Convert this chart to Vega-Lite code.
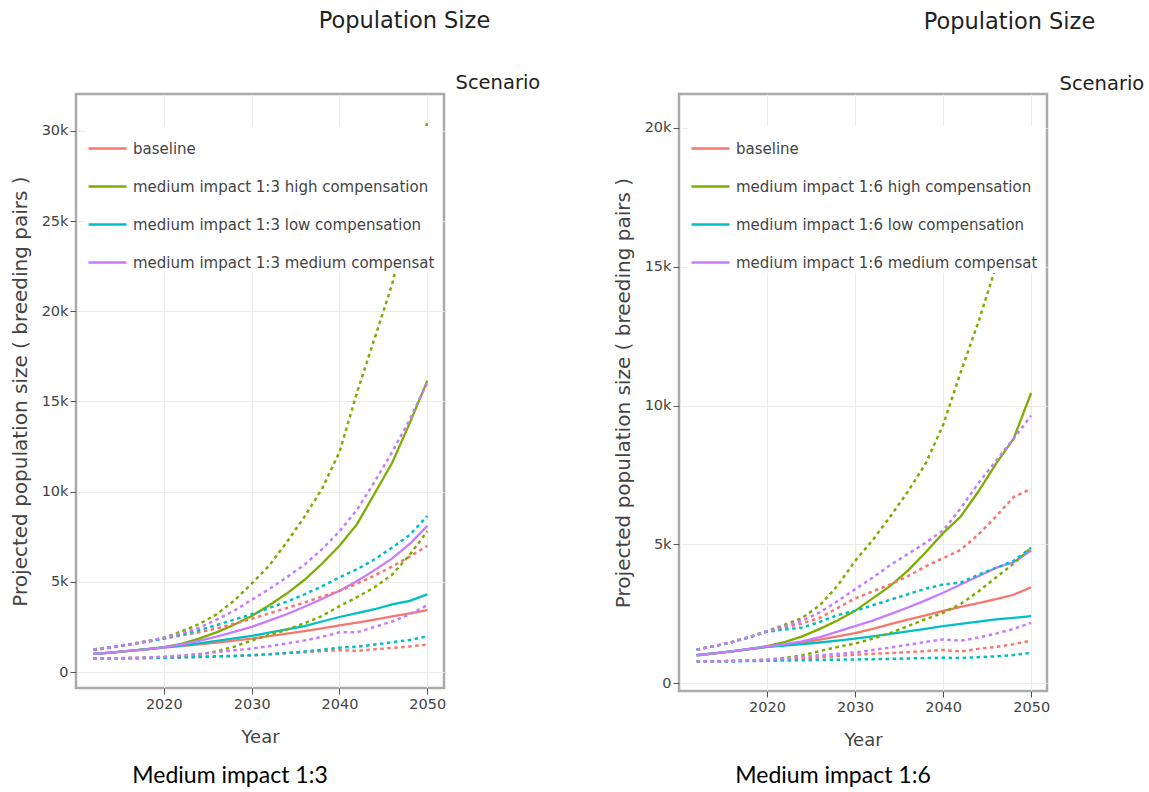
{
  "$schema": "https://vega.github.io/schema/vega-lite/v6.json",
  "background": "white",
  "padding": {"left": 8, "top": 7, "right": 5, "bottom": 5},
  "bounds": "flush",
  "spacing": 235,
  "config": {
    "font": "DejaVu Sans",
    "view": {"stroke": "#aaaaaa", "strokeWidth": 2.5},
    "axis": {"labelFont": "DejaVu Sans", "labelFontSize": 14.5, "labelColor": "#444444", "titleFont": "DejaVu Sans", "titleFontWeight": "normal", "titleColor": "#444444", "tickColor": "#555555", "tickSize": 6, "domain": false, "gridColor": "#ebebeb", "gridWidth": 1},
    "line": {"strokeCap": "butt"}
  },
  "resolve": {"scale": {"color": "independent", "x": "independent", "y": "independent"}, "legend": {"color": "independent"}},
  "datasets": {
    "n13": [
      {"k": "B", "scenario": "baseline"},
      {"k": "H", "scenario": "medium impact 1:3 high compensation"},
      {"k": "L", "scenario": "medium impact 1:3 low compensation"},
      {"k": "M", "scenario": "medium impact 1:3 medium compensation"}
    ],
    "n16": [
      {"k": "B", "scenario": "baseline"},
      {"k": "H", "scenario": "medium impact 1:6 high compensation"},
      {"k": "L", "scenario": "medium impact 1:6 low compensation"},
      {"k": "M", "scenario": "medium impact 1:6 medium compensation"}
    ],
    "d13": [
      {"k":"B","t":"m","year":2012,"value":1000},{"k":"B","t":"m","year":2014,"value":1080},{"k":"B","t":"m","year":2016,"value":1170},{"k":"B","t":"m","year":2018,"value":1260},{"k":"B","t":"m","year":2020,"value":1350},{"k":"B","t":"m","year":2022,"value":1440},{"k":"B","t":"m","year":2024,"value":1530},{"k":"B","t":"m","year":2026,"value":1630},{"k":"B","t":"m","year":2028,"value":1740},{"k":"B","t":"m","year":2030,"value":1850},{"k":"B","t":"m","year":2032,"value":1990},{"k":"B","t":"m","year":2034,"value":2130},{"k":"B","t":"m","year":2036,"value":2270},{"k":"B","t":"m","year":2038,"value":2420},{"k":"B","t":"m","year":2040,"value":2580},{"k":"B","t":"m","year":2042,"value":2740},{"k":"B","t":"m","year":2044,"value":2910},{"k":"B","t":"m","year":2046,"value":3080},{"k":"B","t":"m","year":2048,"value":3250},{"k":"B","t":"m","year":2050,"value":3430},
      {"k":"B","t":"u","year":2012,"value":1200},{"k":"B","t":"u","year":2014,"value":1350},{"k":"B","t":"u","year":2016,"value":1500},{"k":"B","t":"u","year":2018,"value":1670},{"k":"B","t":"u","year":2020,"value":1850},{"k":"B","t":"u","year":2022,"value":2030},{"k":"B","t":"u","year":2024,"value":2200},{"k":"B","t":"u","year":2026,"value":2420},{"k":"B","t":"u","year":2028,"value":2680},{"k":"B","t":"u","year":2030,"value":2950},{"k":"B","t":"u","year":2032,"value":3250},{"k":"B","t":"u","year":2034,"value":3550},{"k":"B","t":"u","year":2036,"value":3850},{"k":"B","t":"u","year":2038,"value":4180},{"k":"B","t":"u","year":2040,"value":4500},{"k":"B","t":"u","year":2042,"value":4900},{"k":"B","t":"u","year":2044,"value":5350},{"k":"B","t":"u","year":2046,"value":5850},{"k":"B","t":"u","year":2048,"value":6400},{"k":"B","t":"u","year":2050,"value":7000},
      {"k":"B","t":"l","year":2012,"value":760},{"k":"B","t":"l","year":2014,"value":765},{"k":"B","t":"l","year":2016,"value":770},{"k":"B","t":"l","year":2018,"value":780},{"k":"B","t":"l","year":2020,"value":795},{"k":"B","t":"l","year":2022,"value":810},{"k":"B","t":"l","year":2024,"value":830},{"k":"B","t":"l","year":2026,"value":855},{"k":"B","t":"l","year":2028,"value":880},{"k":"B","t":"l","year":2030,"value":920},{"k":"B","t":"l","year":2032,"value":980},{"k":"B","t":"l","year":2034,"value":1040},{"k":"B","t":"l","year":2036,"value":1100},{"k":"B","t":"l","year":2038,"value":1160},{"k":"B","t":"l","year":2040,"value":1210},{"k":"B","t":"l","year":2042,"value":1170},{"k":"B","t":"l","year":2044,"value":1260},{"k":"B","t":"l","year":2046,"value":1330},{"k":"B","t":"l","year":2048,"value":1420},{"k":"B","t":"l","year":2050,"value":1520},
      {"k":"H","t":"m","year":2012,"value":1000},{"k":"H","t":"m","year":2014,"value":1080},{"k":"H","t":"m","year":2016,"value":1170},{"k":"H","t":"m","year":2018,"value":1270},{"k":"H","t":"m","year":2020,"value":1380},{"k":"H","t":"m","year":2022,"value":1560},{"k":"H","t":"m","year":2024,"value":1850},{"k":"H","t":"m","year":2026,"value":2200},{"k":"H","t":"m","year":2028,"value":2620},{"k":"H","t":"m","year":2030,"value":3100},{"k":"H","t":"m","year":2032,"value":3700},{"k":"H","t":"m","year":2034,"value":4350},{"k":"H","t":"m","year":2036,"value":5100},{"k":"H","t":"m","year":2038,"value":6000},{"k":"H","t":"m","year":2040,"value":7000},{"k":"H","t":"m","year":2042,"value":8200},{"k":"H","t":"m","year":2044,"value":9900},{"k":"H","t":"m","year":2046,"value":11600},{"k":"H","t":"m","year":2048,"value":13800},{"k":"H","t":"m","year":2050,"value":16150},
      {"k":"H","t":"u","year":2012,"value":1250},{"k":"H","t":"u","year":2014,"value":1380},{"k":"H","t":"u","year":2016,"value":1530},{"k":"H","t":"u","year":2018,"value":1700},{"k":"H","t":"u","year":2020,"value":1900},{"k":"H","t":"u","year":2022,"value":2250},{"k":"H","t":"u","year":2024,"value":2650},{"k":"H","t":"u","year":2026,"value":3200},{"k":"H","t":"u","year":2028,"value":3950},{"k":"H","t":"u","year":2030,"value":4900},{"k":"H","t":"u","year":2032,"value":5900},{"k":"H","t":"u","year":2034,"value":7200},{"k":"H","t":"u","year":2036,"value":8600},{"k":"H","t":"u","year":2038,"value":10150},{"k":"H","t":"u","year":2040,"value":12200},{"k":"H","t":"u","year":2042,"value":15500},{"k":"H","t":"u","year":2044,"value":18500},{"k":"H","t":"u","year":2046,"value":21500},{"k":"H","t":"u","year":2048,"value":25600},{"k":"H","t":"u","year":2050,"value":30500},
      {"k":"H","t":"l","year":2012,"value":760},{"k":"H","t":"l","year":2014,"value":765},{"k":"H","t":"l","year":2016,"value":770},{"k":"H","t":"l","year":2018,"value":790},{"k":"H","t":"l","year":2020,"value":820},{"k":"H","t":"l","year":2022,"value":880},{"k":"H","t":"l","year":2024,"value":960},{"k":"H","t":"l","year":2026,"value":1150},{"k":"H","t":"l","year":2028,"value":1400},{"k":"H","t":"l","year":2030,"value":1750},{"k":"H","t":"l","year":2032,"value":2050},{"k":"H","t":"l","year":2034,"value":2350},{"k":"H","t":"l","year":2036,"value":2700},{"k":"H","t":"l","year":2038,"value":3100},{"k":"H","t":"l","year":2040,"value":3650},{"k":"H","t":"l","year":2042,"value":4150},{"k":"H","t":"l","year":2044,"value":4700},{"k":"H","t":"l","year":2046,"value":5400},{"k":"H","t":"l","year":2048,"value":6500},{"k":"H","t":"l","year":2050,"value":7800},
      {"k":"L","t":"m","year":2012,"value":1000},{"k":"L","t":"m","year":2014,"value":1080},{"k":"L","t":"m","year":2016,"value":1170},{"k":"L","t":"m","year":2018,"value":1260},{"k":"L","t":"m","year":2020,"value":1360},{"k":"L","t":"m","year":2022,"value":1470},{"k":"L","t":"m","year":2024,"value":1590},{"k":"L","t":"m","year":2026,"value":1720},{"k":"L","t":"m","year":2028,"value":1860},{"k":"L","t":"m","year":2030,"value":2000},{"k":"L","t":"m","year":2032,"value":2180},{"k":"L","t":"m","year":2034,"value":2360},{"k":"L","t":"m","year":2036,"value":2550},{"k":"L","t":"m","year":2038,"value":2800},{"k":"L","t":"m","year":2040,"value":3050},{"k":"L","t":"m","year":2042,"value":3260},{"k":"L","t":"m","year":2044,"value":3480},{"k":"L","t":"m","year":2046,"value":3750},{"k":"L","t":"m","year":2048,"value":3950},{"k":"L","t":"m","year":2050,"value":4300},
      {"k":"L","t":"u","year":2012,"value":1250},{"k":"L","t":"u","year":2014,"value":1380},{"k":"L","t":"u","year":2016,"value":1530},{"k":"L","t":"u","year":2018,"value":1680},{"k":"L","t":"u","year":2020,"value":1850},{"k":"L","t":"u","year":2022,"value":2080},{"k":"L","t":"u","year":2024,"value":2320},{"k":"L","t":"u","year":2026,"value":2600},{"k":"L","t":"u","year":2028,"value":2900},{"k":"L","t":"u","year":2030,"value":3200},{"k":"L","t":"u","year":2032,"value":3550},{"k":"L","t":"u","year":2034,"value":3900},{"k":"L","t":"u","year":2036,"value":4300},{"k":"L","t":"u","year":2038,"value":4750},{"k":"L","t":"u","year":2040,"value":5250},{"k":"L","t":"u","year":2042,"value":5700},{"k":"L","t":"u","year":2044,"value":6250},{"k":"L","t":"u","year":2046,"value":6900},{"k":"L","t":"u","year":2048,"value":7600},{"k":"L","t":"u","year":2050,"value":8650},
      {"k":"L","t":"l","year":2012,"value":750},{"k":"L","t":"l","year":2014,"value":755},{"k":"L","t":"l","year":2016,"value":760},{"k":"L","t":"l","year":2018,"value":770},{"k":"L","t":"l","year":2020,"value":790},{"k":"L","t":"l","year":2022,"value":810},{"k":"L","t":"l","year":2024,"value":835},{"k":"L","t":"l","year":2026,"value":870},{"k":"L","t":"l","year":2028,"value":900},{"k":"L","t":"l","year":2030,"value":930},{"k":"L","t":"l","year":2032,"value":990},{"k":"L","t":"l","year":2034,"value":1050},{"k":"L","t":"l","year":2036,"value":1140},{"k":"L","t":"l","year":2038,"value":1230},{"k":"L","t":"l","year":2040,"value":1350},{"k":"L","t":"l","year":2042,"value":1400},{"k":"L","t":"l","year":2044,"value":1520},{"k":"L","t":"l","year":2046,"value":1650},{"k":"L","t":"l","year":2048,"value":1780},{"k":"L","t":"l","year":2050,"value":1980},
      {"k":"M","t":"m","year":2012,"value":1000},{"k":"M","t":"m","year":2014,"value":1080},{"k":"M","t":"m","year":2016,"value":1170},{"k":"M","t":"m","year":2018,"value":1260},{"k":"M","t":"m","year":2020,"value":1370},{"k":"M","t":"m","year":2022,"value":1520},{"k":"M","t":"m","year":2024,"value":1720},{"k":"M","t":"m","year":2026,"value":1960},{"k":"M","t":"m","year":2028,"value":2220},{"k":"M","t":"m","year":2030,"value":2500},{"k":"M","t":"m","year":2032,"value":2850},{"k":"M","t":"m","year":2034,"value":3200},{"k":"M","t":"m","year":2036,"value":3620},{"k":"M","t":"m","year":2038,"value":4050},{"k":"M","t":"m","year":2040,"value":4500},{"k":"M","t":"m","year":2042,"value":5050},{"k":"M","t":"m","year":2044,"value":5650},{"k":"M","t":"m","year":2046,"value":6300},{"k":"M","t":"m","year":2048,"value":7100},{"k":"M","t":"m","year":2050,"value":8100},
      {"k":"M","t":"u","year":2012,"value":1250},{"k":"M","t":"u","year":2014,"value":1380},{"k":"M","t":"u","year":2016,"value":1530},{"k":"M","t":"u","year":2018,"value":1700},{"k":"M","t":"u","year":2020,"value":1900},{"k":"M","t":"u","year":2022,"value":2150},{"k":"M","t":"u","year":2024,"value":2450},{"k":"M","t":"u","year":2026,"value":2900},{"k":"M","t":"u","year":2028,"value":3400},{"k":"M","t":"u","year":2030,"value":4000},{"k":"M","t":"u","year":2032,"value":4600},{"k":"M","t":"u","year":2034,"value":5250},{"k":"M","t":"u","year":2036,"value":5950},{"k":"M","t":"u","year":2038,"value":6800},{"k":"M","t":"u","year":2040,"value":7800},{"k":"M","t":"u","year":2042,"value":9000},{"k":"M","t":"u","year":2044,"value":10550},{"k":"M","t":"u","year":2046,"value":12200},{"k":"M","t":"u","year":2048,"value":14000},{"k":"M","t":"u","year":2050,"value":16050},
      {"k":"M","t":"l","year":2012,"value":760},{"k":"M","t":"l","year":2014,"value":765},{"k":"M","t":"l","year":2016,"value":775},{"k":"M","t":"l","year":2018,"value":800},{"k":"M","t":"l","year":2020,"value":850},{"k":"M","t":"l","year":2022,"value":920},{"k":"M","t":"l","year":2024,"value":1000},{"k":"M","t":"l","year":2026,"value":1100},{"k":"M","t":"l","year":2028,"value":1200},{"k":"M","t":"l","year":2030,"value":1300},{"k":"M","t":"l","year":2032,"value":1430},{"k":"M","t":"l","year":2034,"value":1580},{"k":"M","t":"l","year":2036,"value":1750},{"k":"M","t":"l","year":2038,"value":1950},{"k":"M","t":"l","year":2040,"value":2200},{"k":"M","t":"l","year":2042,"value":2200},{"k":"M","t":"l","year":2044,"value":2500},{"k":"M","t":"l","year":2046,"value":2800},{"k":"M","t":"l","year":2048,"value":3200},{"k":"M","t":"l","year":2050,"value":3700}
    ],
    "d16": [
      {"k":"B","t":"m","year":2012,"value":1000},{"k":"B","t":"m","year":2014,"value":1070},{"k":"B","t":"m","year":2016,"value":1140},{"k":"B","t":"m","year":2018,"value":1220},{"k":"B","t":"m","year":2020,"value":1300},{"k":"B","t":"m","year":2022,"value":1380},{"k":"B","t":"m","year":2024,"value":1460},{"k":"B","t":"m","year":2026,"value":1560},{"k":"B","t":"m","year":2028,"value":1680},{"k":"B","t":"m","year":2030,"value":1800},{"k":"B","t":"m","year":2032,"value":1950},{"k":"B","t":"m","year":2034,"value":2120},{"k":"B","t":"m","year":2036,"value":2280},{"k":"B","t":"m","year":2038,"value":2440},{"k":"B","t":"m","year":2040,"value":2600},{"k":"B","t":"m","year":2042,"value":2740},{"k":"B","t":"m","year":2044,"value":2880},{"k":"B","t":"m","year":2046,"value":3020},{"k":"B","t":"m","year":2048,"value":3180},{"k":"B","t":"m","year":2050,"value":3450},
      {"k":"B","t":"u","year":2012,"value":1200},{"k":"B","t":"u","year":2014,"value":1330},{"k":"B","t":"u","year":2016,"value":1470},{"k":"B","t":"u","year":2018,"value":1650},{"k":"B","t":"u","year":2020,"value":1850},{"k":"B","t":"u","year":2022,"value":2000},{"k":"B","t":"u","year":2024,"value":2150},{"k":"B","t":"u","year":2026,"value":2350},{"k":"B","t":"u","year":2028,"value":2700},{"k":"B","t":"u","year":2030,"value":3050},{"k":"B","t":"u","year":2032,"value":3300},{"k":"B","t":"u","year":2034,"value":3550},{"k":"B","t":"u","year":2036,"value":3850},{"k":"B","t":"u","year":2038,"value":4200},{"k":"B","t":"u","year":2040,"value":4500},{"k":"B","t":"u","year":2042,"value":4800},{"k":"B","t":"u","year":2044,"value":5350},{"k":"B","t":"u","year":2046,"value":6000},{"k":"B","t":"u","year":2048,"value":6700},{"k":"B","t":"u","year":2050,"value":7000},
      {"k":"B","t":"l","year":2012,"value":780},{"k":"B","t":"l","year":2014,"value":785},{"k":"B","t":"l","year":2016,"value":790},{"k":"B","t":"l","year":2018,"value":810},{"k":"B","t":"l","year":2020,"value":830},{"k":"B","t":"l","year":2022,"value":850},{"k":"B","t":"l","year":2024,"value":880},{"k":"B","t":"l","year":2026,"value":920},{"k":"B","t":"l","year":2028,"value":970},{"k":"B","t":"l","year":2030,"value":1020},{"k":"B","t":"l","year":2032,"value":1050},{"k":"B","t":"l","year":2034,"value":1080},{"k":"B","t":"l","year":2036,"value":1110},{"k":"B","t":"l","year":2038,"value":1150},{"k":"B","t":"l","year":2040,"value":1190},{"k":"B","t":"l","year":2042,"value":1140},{"k":"B","t":"l","year":2044,"value":1230},{"k":"B","t":"l","year":2046,"value":1300},{"k":"B","t":"l","year":2048,"value":1400},{"k":"B","t":"l","year":2050,"value":1530},
      {"k":"H","t":"m","year":2012,"value":1000},{"k":"H","t":"m","year":2014,"value":1070},{"k":"H","t":"m","year":2016,"value":1140},{"k":"H","t":"m","year":2018,"value":1230},{"k":"H","t":"m","year":2020,"value":1330},{"k":"H","t":"m","year":2022,"value":1470},{"k":"H","t":"m","year":2024,"value":1680},{"k":"H","t":"m","year":2026,"value":1950},{"k":"H","t":"m","year":2028,"value":2250},{"k":"H","t":"m","year":2030,"value":2600},{"k":"H","t":"m","year":2032,"value":3050},{"k":"H","t":"m","year":2034,"value":3500},{"k":"H","t":"m","year":2036,"value":4050},{"k":"H","t":"m","year":2038,"value":4700},{"k":"H","t":"m","year":2040,"value":5400},{"k":"H","t":"m","year":2042,"value":6000},{"k":"H","t":"m","year":2044,"value":6900},{"k":"H","t":"m","year":2046,"value":7900},{"k":"H","t":"m","year":2048,"value":8800},{"k":"H","t":"m","year":2050,"value":10450},
      {"k":"H","t":"u","year":2012,"value":1200},{"k":"H","t":"u","year":2014,"value":1330},{"k":"H","t":"u","year":2016,"value":1480},{"k":"H","t":"u","year":2018,"value":1660},{"k":"H","t":"u","year":2020,"value":1870},{"k":"H","t":"u","year":2022,"value":2100},{"k":"H","t":"u","year":2024,"value":2350},{"k":"H","t":"u","year":2026,"value":2800},{"k":"H","t":"u","year":2028,"value":3500},{"k":"H","t":"u","year":2030,"value":4400},{"k":"H","t":"u","year":2032,"value":5150},{"k":"H","t":"u","year":2034,"value":6000},{"k":"H","t":"u","year":2036,"value":6900},{"k":"H","t":"u","year":2038,"value":7900},{"k":"H","t":"u","year":2040,"value":9300},{"k":"H","t":"u","year":2042,"value":11200},{"k":"H","t":"u","year":2044,"value":13000},{"k":"H","t":"u","year":2046,"value":15000},{"k":"H","t":"u","year":2048,"value":17400},{"k":"H","t":"u","year":2050,"value":20100},
      {"k":"H","t":"l","year":2012,"value":780},{"k":"H","t":"l","year":2014,"value":785},{"k":"H","t":"l","year":2016,"value":790},{"k":"H","t":"l","year":2018,"value":810},{"k":"H","t":"l","year":2020,"value":840},{"k":"H","t":"l","year":2022,"value":900},{"k":"H","t":"l","year":2024,"value":1000},{"k":"H","t":"l","year":2026,"value":1150},{"k":"H","t":"l","year":2028,"value":1300},{"k":"H","t":"l","year":2030,"value":1420},{"k":"H","t":"l","year":2032,"value":1600},{"k":"H","t":"l","year":2034,"value":1800},{"k":"H","t":"l","year":2036,"value":2050},{"k":"H","t":"l","year":2038,"value":2300},{"k":"H","t":"l","year":2040,"value":2530},{"k":"H","t":"l","year":2042,"value":2850},{"k":"H","t":"l","year":2044,"value":3300},{"k":"H","t":"l","year":2046,"value":3800},{"k":"H","t":"l","year":2048,"value":4300},{"k":"H","t":"l","year":2050,"value":4870},
      {"k":"L","t":"m","year":2012,"value":1000},{"k":"L","t":"m","year":2014,"value":1070},{"k":"L","t":"m","year":2016,"value":1140},{"k":"L","t":"m","year":2018,"value":1220},{"k":"L","t":"m","year":2020,"value":1300},{"k":"L","t":"m","year":2022,"value":1350},{"k":"L","t":"m","year":2024,"value":1400},{"k":"L","t":"m","year":2026,"value":1460},{"k":"L","t":"m","year":2028,"value":1530},{"k":"L","t":"m","year":2030,"value":1600},{"k":"L","t":"m","year":2032,"value":1680},{"k":"L","t":"m","year":2034,"value":1770},{"k":"L","t":"m","year":2036,"value":1860},{"k":"L","t":"m","year":2038,"value":1950},{"k":"L","t":"m","year":2040,"value":2050},{"k":"L","t":"m","year":2042,"value":2130},{"k":"L","t":"m","year":2044,"value":2210},{"k":"L","t":"m","year":2046,"value":2290},{"k":"L","t":"m","year":2048,"value":2350},{"k":"L","t":"m","year":2050,"value":2410},
      {"k":"L","t":"u","year":2012,"value":1200},{"k":"L","t":"u","year":2014,"value":1330},{"k":"L","t":"u","year":2016,"value":1470},{"k":"L","t":"u","year":2018,"value":1650},{"k":"L","t":"u","year":2020,"value":1850},{"k":"L","t":"u","year":2022,"value":1930},{"k":"L","t":"u","year":2024,"value":2000},{"k":"L","t":"u","year":2026,"value":2200},{"k":"L","t":"u","year":2028,"value":2450},{"k":"L","t":"u","year":2030,"value":2600},{"k":"L","t":"u","year":2032,"value":2800},{"k":"L","t":"u","year":2034,"value":3000},{"k":"L","t":"u","year":2036,"value":3200},{"k":"L","t":"u","year":2038,"value":3400},{"k":"L","t":"u","year":2040,"value":3550},{"k":"L","t":"u","year":2042,"value":3620},{"k":"L","t":"u","year":2044,"value":3900},{"k":"L","t":"u","year":2046,"value":4150},{"k":"L","t":"u","year":2048,"value":4400},{"k":"L","t":"u","year":2050,"value":4870},
      {"k":"L","t":"l","year":2012,"value":780},{"k":"L","t":"l","year":2014,"value":780},{"k":"L","t":"l","year":2016,"value":785},{"k":"L","t":"l","year":2018,"value":790},{"k":"L","t":"l","year":2020,"value":800},{"k":"L","t":"l","year":2022,"value":810},{"k":"L","t":"l","year":2024,"value":820},{"k":"L","t":"l","year":2026,"value":830},{"k":"L","t":"l","year":2028,"value":840},{"k":"L","t":"l","year":2030,"value":850},{"k":"L","t":"l","year":2032,"value":860},{"k":"L","t":"l","year":2034,"value":870},{"k":"L","t":"l","year":2036,"value":885},{"k":"L","t":"l","year":2038,"value":900},{"k":"L","t":"l","year":2040,"value":910},{"k":"L","t":"l","year":2042,"value":900},{"k":"L","t":"l","year":2044,"value":930},{"k":"L","t":"l","year":2046,"value":960},{"k":"L","t":"l","year":2048,"value":1010},{"k":"L","t":"l","year":2050,"value":1090},
      {"k":"M","t":"m","year":2012,"value":1000},{"k":"M","t":"m","year":2014,"value":1070},{"k":"M","t":"m","year":2016,"value":1140},{"k":"M","t":"m","year":2018,"value":1230},{"k":"M","t":"m","year":2020,"value":1320},{"k":"M","t":"m","year":2022,"value":1400},{"k":"M","t":"m","year":2024,"value":1500},{"k":"M","t":"m","year":2026,"value":1650},{"k":"M","t":"m","year":2028,"value":1850},{"k":"M","t":"m","year":2030,"value":2050},{"k":"M","t":"m","year":2032,"value":2250},{"k":"M","t":"m","year":2034,"value":2480},{"k":"M","t":"m","year":2036,"value":2720},{"k":"M","t":"m","year":2038,"value":2980},{"k":"M","t":"m","year":2040,"value":3250},{"k":"M","t":"m","year":2042,"value":3550},{"k":"M","t":"m","year":2044,"value":3850},{"k":"M","t":"m","year":2046,"value":4150},{"k":"M","t":"m","year":2048,"value":4350},{"k":"M","t":"m","year":2050,"value":4770},
      {"k":"M","t":"u","year":2012,"value":1200},{"k":"M","t":"u","year":2014,"value":1330},{"k":"M","t":"u","year":2016,"value":1480},{"k":"M","t":"u","year":2018,"value":1660},{"k":"M","t":"u","year":2020,"value":1870},{"k":"M","t":"u","year":2022,"value":2050},{"k":"M","t":"u","year":2024,"value":2250},{"k":"M","t":"u","year":2026,"value":2550},{"k":"M","t":"u","year":2028,"value":2950},{"k":"M","t":"u","year":2030,"value":3380},{"k":"M","t":"u","year":2032,"value":3800},{"k":"M","t":"u","year":2034,"value":4250},{"k":"M","t":"u","year":2036,"value":4650},{"k":"M","t":"u","year":2038,"value":5050},{"k":"M","t":"u","year":2040,"value":5500},{"k":"M","t":"u","year":2042,"value":6300},{"k":"M","t":"u","year":2044,"value":7200},{"k":"M","t":"u","year":2046,"value":8000},{"k":"M","t":"u","year":2048,"value":8800},{"k":"M","t":"u","year":2050,"value":9640},
      {"k":"M","t":"l","year":2012,"value":780},{"k":"M","t":"l","year":2014,"value":785},{"k":"M","t":"l","year":2016,"value":795},{"k":"M","t":"l","year":2018,"value":815},{"k":"M","t":"l","year":2020,"value":840},{"k":"M","t":"l","year":2022,"value":880},{"k":"M","t":"l","year":2024,"value":940},{"k":"M","t":"l","year":2026,"value":1000},{"k":"M","t":"l","year":2028,"value":1050},{"k":"M","t":"l","year":2030,"value":1100},{"k":"M","t":"l","year":2032,"value":1190},{"k":"M","t":"l","year":2034,"value":1280},{"k":"M","t":"l","year":2036,"value":1380},{"k":"M","t":"l","year":2038,"value":1480},{"k":"M","t":"l","year":2040,"value":1570},{"k":"M","t":"l","year":2042,"value":1520},{"k":"M","t":"l","year":2044,"value":1640},{"k":"M","t":"l","year":2046,"value":1780},{"k":"M","t":"l","year":2048,"value":1950},{"k":"M","t":"l","year":2050,"value":2170}
    ]
  },
  "hconcat": [
    {
      "width": 368,
      "height": 594,
      "title": {"text": "Medium impact 1:3", "orient": "bottom", "anchor": "middle", "dx": -30, "offset": 18, "font": "Lato", "fontSize": 23, "fontWeight": "normal", "color": "#000000"},
      "data": {"name": "d13"},
      "transform": [{"lookup": "k", "from": {"data": {"name": "n13"}, "key": "k", "fields": ["scenario"]}}],
      "layer": [
        {
          "transform": [{"filter": "datum.t == 'm'"}],
          "mark": {"type": "line", "strokeWidth": 2.3},
          "encoding": {
            "x": {"field": "year", "type": "quantitative", "scale": {"domain": [2010, 2051.9], "nice": false, "zero": false},
                  "axis": {"orient": "bottom", "values": [2020, 2030, 2040, 2050], "format": "d", "grid": true, "labelPadding": 3, "title": "Year", "titleFontSize": 18, "titlePadding": 18}},
            "y": {"field": "value", "type": "quantitative", "scale": {"domain": [-887, 32050], "nice": false, "zero": false},
                  "axis": {"orient": "left", "values": [0, 5000, 10000, 15000, 20000, 25000, 30000], "format": "~s", "labelExpr": "datum.value == 0 ? '0' : datum.label", "grid": true, "labelPadding": 2, "title": "Projected population size ( breeding pairs )", "titleFontSize": 20, "titlePadding": 11}},
            "color": {"field": "scenario", "type": "nominal",
                      "scale": {"domain": ["baseline", "medium impact 1:3 high compensation", "medium impact 1:3 low compensation", "medium impact 1:3 medium compensation"], "range": ["#F8766D", "#7CAE00", "#00BFC4", "#C77CFF"]},
                      "legend": {"orient": "none", "legendX": 9, "legendY": 32, "title": null, "symbolType": "stroke", "symbolSize": 1444, "symbolStrokeWidth": 2.5, "labelFont": "DejaVu Sans", "labelFontSize": 15, "labelColor": "#444444", "labelLimit": 307, "labelOffset": 5, "rowPadding": 9, "padding": 2, "fillColor": "white",
                                 "encode": {"symbols": {"update": {"strokeDash": {"value": [1, 0]}}}, "labels": {"update": {"ellipsis": {"value": " "}}}}}}
          }
        },
        {
          "transform": [{"filter": "datum.t != 'm'"}],
          "mark": {"type": "line", "strokeWidth": 2.5, "strokeDash": [3.5, 3.5]},
          "encoding": {
            "x": {"field": "year", "type": "quantitative", "scale": {"domain": [2010, 2051.9], "nice": false, "zero": false},
                  "axis": {"orient": "top", "labels": false, "ticks": false, "grid": false, "domain": false, "title": "Population Size", "titleX": 328, "titleY": -74, "titleAngle": 0, "titleAlign": "center", "titleBaseline": "middle", "titleFontSize": 22.5, "titleColor": "#222222"}},
            "y": {"field": "value", "type": "quantitative", "scale": {"domain": [-887, 32050], "nice": false, "zero": false},
                  "axis": {"orient": "right", "labels": false, "ticks": false, "grid": false, "domain": false, "title": "Scenario", "titleX": 11, "titleY": -12, "titleAngle": 0, "titleAlign": "left", "titleBaseline": "middle", "titleFontSize": 19.5, "titleColor": "#222222"}},
            "color": {"field": "scenario", "type": "nominal"},
            "detail": {"field": "t", "type": "nominal"}
          }
        }
      ],
      "resolve": {"axis": {"x": "independent", "y": "independent"}}
    },
    {
      "width": 368,
      "height": 597,
      "title": {"text": "Medium impact 1:6", "orient": "bottom", "anchor": "middle", "dx": -30, "offset": 15, "font": "Lato", "fontSize": 23, "fontWeight": "normal", "color": "#000000"},
      "data": {"name": "d16"},
      "transform": [{"lookup": "k", "from": {"data": {"name": "n16"}, "key": "k", "fields": ["scenario"]}}],
      "layer": [
        {
          "transform": [{"filter": "datum.t == 'm'"}],
          "mark": {"type": "line", "strokeWidth": 2.3},
          "encoding": {
            "x": {"field": "year", "type": "quantitative", "scale": {"domain": [2010, 2051.8], "nice": false, "zero": false},
                  "axis": {"orient": "bottom", "values": [2020, 2030, 2040, 2050], "format": "d", "grid": true, "labelPadding": 3, "title": "Year", "titleFontSize": 18, "titlePadding": 18}},
            "y": {"field": "value", "type": "quantitative", "scale": {"domain": [-288, 21225], "nice": false, "zero": false},
                  "axis": {"orient": "left", "values": [0, 5000, 10000, 15000, 20000], "format": "~s", "labelExpr": "datum.value == 0 ? '0' : datum.label", "grid": true, "labelPadding": 2, "title": "Projected population size ( breeding pairs )", "titleFontSize": 20, "titlePadding": 11}},
            "color": {"field": "scenario", "type": "nominal",
                      "scale": {"domain": ["baseline", "medium impact 1:6 high compensation", "medium impact 1:6 low compensation", "medium impact 1:6 medium compensation"], "range": ["#F8766D", "#7CAE00", "#00BFC4", "#C77CFF"]},
                      "legend": {"orient": "none", "legendX": 9, "legendY": 32, "title": null, "symbolType": "stroke", "symbolSize": 1444, "symbolStrokeWidth": 2.5, "labelFont": "DejaVu Sans", "labelFontSize": 15, "labelColor": "#444444", "labelLimit": 307, "labelOffset": 5, "rowPadding": 9, "padding": 2, "fillColor": "white",
                                 "encode": {"symbols": {"update": {"strokeDash": {"value": [1, 0]}}}, "labels": {"update": {"ellipsis": {"value": " "}}}}}}
          }
        },
        {
          "transform": [{"filter": "datum.t != 'm'"}],
          "mark": {"type": "line", "strokeWidth": 2.5, "strokeDash": [3.5, 3.5]},
          "encoding": {
            "x": {"field": "year", "type": "quantitative", "scale": {"domain": [2010, 2051.8], "nice": false, "zero": false},
                  "axis": {"orient": "top", "labels": false, "ticks": false, "grid": false, "domain": false, "title": "Population Size", "titleX": 330, "titleY": -73, "titleAngle": 0, "titleAlign": "center", "titleBaseline": "middle", "titleFontSize": 22.5, "titleColor": "#222222"}},
            "y": {"field": "value", "type": "quantitative", "scale": {"domain": [-288, 21225], "nice": false, "zero": false},
                  "axis": {"orient": "right", "labels": false, "ticks": false, "grid": false, "domain": false, "title": "Scenario", "titleX": 12, "titleY": -11, "titleAngle": 0, "titleAlign": "left", "titleBaseline": "middle", "titleFontSize": 19.5, "titleColor": "#222222"}},
            "color": {"field": "scenario", "type": "nominal"},
            "detail": {"field": "t", "type": "nominal"}
          }
        }
      ],
      "resolve": {"axis": {"x": "independent", "y": "independent"}}
    }
  ]
}
